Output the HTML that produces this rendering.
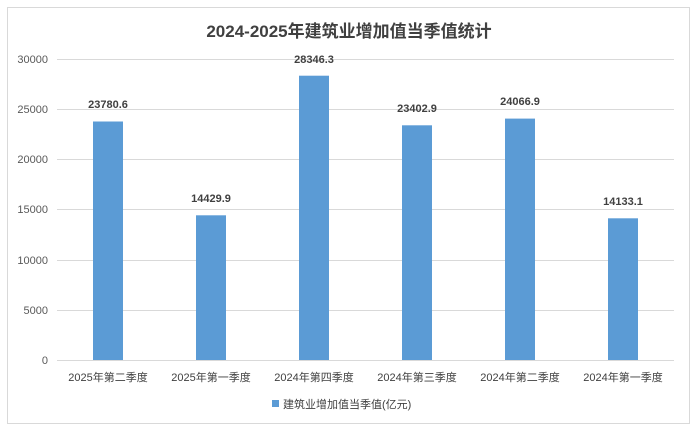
<!DOCTYPE html>
<html><head><meta charset="utf-8"><style>
body{margin:0;background:#fff;}
svg text{font-family:"Liberation Sans","Noto Sans CJK SC",sans-serif;}
</style></head><body>
<svg width="698" height="433" xmlns="http://www.w3.org/2000/svg">
<rect x="7.5" y="7.5" width="682" height="416" fill="#fff" stroke="#d9d9d9"/>
<text x="349" y="37" text-anchor="middle" font-size="17" font-weight="bold" fill="#404040">2024-2025年建筑业增加值当季值统计</text>
<g stroke="#d9d9d9" stroke-width="1">
<line x1="57" x2="674" y1="59.5" y2="59.5"/>
<line x1="57" x2="674" y1="109.5" y2="109.5"/>
<line x1="57" x2="674" y1="159.5" y2="159.5"/>
<line x1="57" x2="674" y1="209.5" y2="209.5"/>
<line x1="57" x2="674" y1="260.5" y2="260.5"/>
<line x1="57" x2="674" y1="310.5" y2="310.5"/>
<line x1="57" x2="674" y1="360.5" y2="360.5"/>
</g>
<g font-size="11" fill="#595959" text-anchor="end">
<text x="48" y="63">30000</text><text x="48" y="113">25000</text><text x="48" y="163">20000</text>
<text x="48" y="213">15000</text><text x="48" y="264">10000</text><text x="48" y="314">5000</text><text x="48" y="364">0</text>
</g>
<g fill="#5b9bd5">
<rect x="93" y="121.5" width="30" height="238.5"/>
<rect x="196" y="215.3" width="30" height="144.7"/>
<rect x="299" y="75.7" width="30" height="284.3"/>
<rect x="402" y="125.3" width="30" height="234.7"/>
<rect x="505" y="118.6" width="30" height="241.4"/>
<rect x="608" y="218.3" width="30" height="141.7"/>
</g>
<g font-size="11" fill="#404040" text-anchor="middle" font-weight="bold">
<text x="108" y="108">23780.6</text><text x="211" y="202">14429.9</text><text x="314" y="63">28346.3</text>
<text x="417" y="112">23402.9</text><text x="520" y="105">24066.9</text><text x="623" y="205">14133.1</text>
</g>
<g font-size="11" fill="#404040" text-anchor="middle">
<text x="108" y="381">2025年第二季度</text><text x="211" y="381">2025年第一季度</text><text x="314" y="381">2024年第四季度</text>
<text x="417" y="381">2024年第三季度</text><text x="520" y="381">2024年第二季度</text><text x="623" y="381">2024年第一季度</text>
</g>
<rect x="272" y="400" width="7" height="7" fill="#5b9bd5"/>
<text x="283" y="408" font-size="11" fill="#404040">建筑业增加值当季值(亿元)</text>
</svg>
</body></html>
